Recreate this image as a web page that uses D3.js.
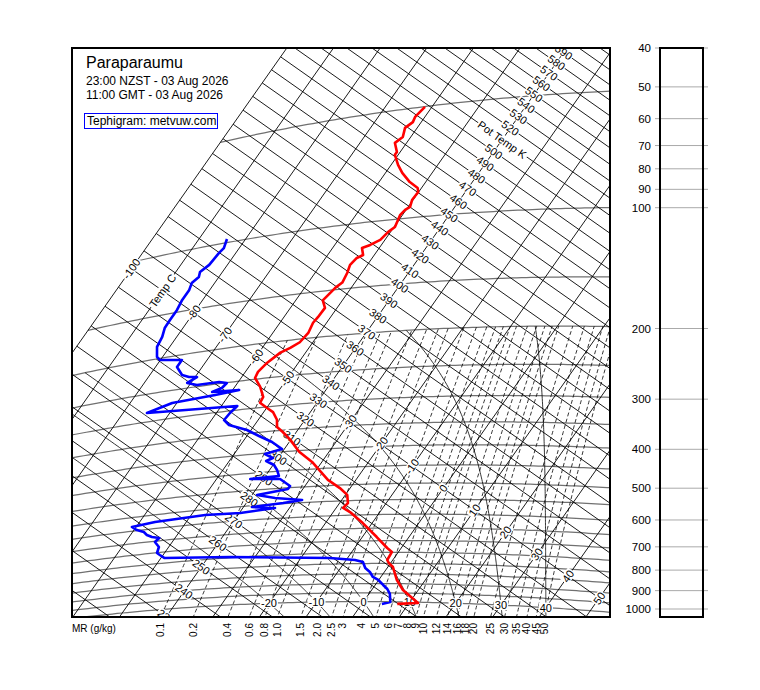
<!DOCTYPE html>
<html><head><meta charset="utf-8">
<script src="https://cdn.jsdelivr.net/npm/d3@7"></script>
<style>body{margin:0;background:#fff;} text{font-family:"Liberation Sans",Arial,Helvetica,sans-serif;fill:#000;}</style>
</head><body><svg id="c" width="760" height="690"></svg>
<script>
// ---------------- data ----------------
const redP = [1012,1004.5,933,881,817,798,784,748,731,685,630,589,574,558,531,509,483,431,403,373,354,342,327,311,302,291,281,263,248,239,227,215,210,204,193,182,176,167,159,148,144,136,129.5,124.5,122.7,117.3,115.7,112.8,107.8,105.0,100.7,97.6,94.9,93.4,89.6,85.5,83.4,79.9,75.0,71.1,66.5,65.4,61.6,59.7,56.4,54.7,53.0,50.1];
const redT = [7.6,11.9,6.7,3.9,1.1,-0.4,-1.2,-1.4,-3.0,-6.9,-12.0,-16.4,-18.5,-18.2,-19.6,-22.2,-26.0,-32.1,-36.4,-40.1,-42.9,-44.9,-46.0,-48.0,-49.9,-52.2,-52.4,-54.6,-57.0,-57.3,-56.7,-55.4,-54.0,-52.8,-52.4,-52.9,-52.7,-52.6,-54.2,-53.4,-52.7,-53.1,-53.7,-53.3,-52.4,-53.7,-52.4,-51.0,-50.5,-49.8,-50.2,-50.5,-50.2,-49.6,-50.2,-50.1,-50.8,-53.4,-56.4,-58.5,-60.7,-60.7,-62.5,-61.7,-62.6,-61.8,-62.1,-61.5];
const bluP = [1013.2,1001.1,955.6,928.5,907.1,881.2,865.8,840.8,821.1,792.6,782.9,771.5,746.4,726.5,711.2,701.1,676.0,653.3,638.7,631.7,621.4,608.4,597.7,584.1,575.6,568.7,572.0,562.9,554.3,547.6,541.2,529.5,515.9,503.7,494.9,472.3,465.8,463.4,446.3,432.2,420.0,413.7,402.0,393.0,374.5,358.2,342.5,327.9,316.6,304.1,292.4,282.8,271.6,268.0,264.5,262.2,257.7,250.6,247.3,247.4,241.9,234.9,233.1,228.5,215.6,207.0,204.9,202.1,197.4,184.7,173.8,164.3,156.6,147.7,139.0,131.1,125.6,121.6,117.8,113.6,106.1,103.3,97.6];
const bluTd = [4.3,5.8,4.5,3.2,1.7,-0.1,-1.7,-3.1,-4.7,-6.1,-8.1,-13.8,-35.3,-49.3,-50.7,-51.6,-52.1,-53.7,-53.4,-55.1,-56.5,-57.6,-59.4,-60.9,-56.7,-47.0,-39.8,-33.1,-38.2,-32.1,-28.5,-34.6,-38.9,-33.2,-33.2,-36.4,-42.8,-37.1,-38.4,-39.8,-42.1,-41.1,-43.4,-40.5,-43.7,-47.4,-50.9,-55.5,-57.3,-57.1,-56.6,-74.9,-71.0,-63.0,-58.6,-64.1,-62.6,-62.3,-64.1,-68.4,-70.8,-69.6,-71.3,-73.1,-75.4,-75.4,-77.5,-80.1,-81.2,-82.7,-83.1,-83.9,-84.0,-84.0,-84.4,-84.4,-84.9,-84.3,-84.8,-83.9,-83.6,-83.3,-84.0];

const isotherms = d3.range(-100, 61, 10);
const adiabats = d3.range(210, 640, 10);
const isobars = [50,100,150,200,250,300,350,400,450,500,550,600,650,700,750,800,850,900,950,1000];
const mixRatios = [0.1,0.2,0.4,0.6,0.8,1.0,1.5,2.0,2.5,3,4,5,6,7,8,9,10,12,14,16,18,20,25,30,35,40,45,50];
const mixLabels = ["0.1","0.2","0.4","0.6","0.8","1.0","1.5","2.0","2.5","3","4","5","6","7","8","9","10","12","14","16","18","20","25","30","35","40","45","50"];
const satAdiabats = [-20,-10,0,10,20,30,40];
const satLabels = ["-20","-10","0","10","20","30","40"];
const tempLabelVals = [-100,-90,-80,-70,-60,-50,-30,-20,-10,0,10,20,30,40,50];
const tempLabelTxt = ["-100","Temp C","-80","-70","-60","-50","-30","-20","-10","0","10","20","30","40","50"];
const thetaLabelVals = d3.range(230, 600, 10);
const thetaLabelTxt = thetaLabelVals.map(v => v === 510 ? "Pot Temp K" : String(v));
const panelTicks = [40,50,60,70,80,90,100,200,300,400,500,600,700,800,900,1000];
const titleLines = ["Paraparaumu","23:00 NZST - 03 Aug 2026","11:00 GMT - 03 Aug 2026"];
const creditText = "Tephigram: metvuw.com";

// ---------------- geometry ----------------
const W = 760, H = 690;
const frame = {x:72, y:48, w:538, h:569};
const ANG = 35.15*Math.PI/180, CA = Math.cos(ANG), SA = Math.sin(ANG);
const LABEL_THETA = 330, LABEL_T = -40;
const sScale = d3.scaleLinear().domain([-40, 50]).range([491, 491 + 3.814*90]);
const tScale = d3.scaleLog().domain([330, 660]).range([-144.1, -144.1 + 732.9*Math.log(2)]);
function xy(Tc, th){ const s = sScale(Tc), t = tScale(th); return [CA*s + SA*t, SA*s - CA*t]; }
function thetaOf(p, Tc){ return (Tc + 273.15)*Math.pow(1000/p, 1/3.5); }
function ptxy(p, Tc){ return xy(Tc, thetaOf(p, Tc)); }
const pY = d3.scaleLog().domain([1000, 40]).range([609, 48]);

function es(Tc){ return 6.112*Math.exp(17.67*Tc/(Tc + 243.5)); }
function tdFromE(e){ const l = Math.log(e/6.112); return 243.5*l/(17.67 - l); }
function rsat(p, Tc){ const e = es(Tc); return 0.622*e/(p - e); }
function dTdp(p, Tk){
  const Rd = 287.04, cp = 1005.7, Lv = 2.501e6, eps = 0.622;
  const r = rsat(p, Tk - 273.15);
  return (Rd*Tk + Lv*r)/(p*(cp + Lv*Lv*r*eps/(Rd*Tk*Tk)));
}
function moist(tw){
  function run(p0, p1, dp){
    let p = p0, T = tw + 273.15; const out = [[p, T]];
    while ((dp < 0 && p > p1) || (dp > 0 && p < p1)){
      const k1 = dTdp(p, T), k2 = dTdp(p + dp/2, T + dp/2*k1), k3 = dTdp(p + dp/2, T + dp/2*k2), k4 = dTdp(p + dp, T + dp*k3);
      T += dp/6*(k1 + 2*k2 + 2*k3 + k4); p += dp; out.push([p, T]);
    }
    return out;
  }
  const up = run(1000, 200, -5), down = run(1000, 1100, 5);
  return down.reverse().concat(up.slice(1)).map(d => ptxy(d[0], d[1] - 273.15));
}

// ---------------- drawing ----------------
const svg = d3.select("#c");
svg.append("rect").attr("width", W).attr("height", H).attr("fill", "#fff");
svg.append("defs").append("clipPath").attr("id", "clip").append("rect")
  .attr("x", frame.x).attr("y", frame.y).attr("width", frame.w).attr("height", frame.h);
const g = svg.append("g").attr("clip-path", "url(#clip)");
const line = d3.line();

// isobars (gray)
isobars.forEach(p => {
  const pts = d3.range(-100, 70.1, 1).map(T => ptxy(p, T));
  g.append("path").attr("d", line(pts)).attr("fill", "none").attr("stroke", "#707070").attr("stroke-width", 1.25);
});
// isotherms
isotherms.forEach(T => {
  g.append("path").attr("d", line([xy(T, 150), xy(T, 900)])).attr("fill", "none").attr("stroke", "#000").attr("stroke-width", 0.9);
});
// dry adiabats (start at -100 C)
adiabats.forEach(th => {
  g.append("path").attr("d", line([xy(-100, th), xy(80, th)])).attr("fill", "none").attr("stroke", "#000").attr("stroke-width", 0.9);
});
// mixing ratio lines
const mrPressures = d3.range(1150, 199, -10);
mixRatios.forEach(w => {
  const pts = mrPressures.map(p => { const e = w/1000*p/(0.622 + w/1000); return ptxy(p, tdFromE(e)); });
  g.append("path").attr("d", line(pts)).attr("fill", "none").attr("stroke", "#000").attr("stroke-width", 0.8).attr("stroke-dasharray", "4,2.5");
});
// saturated adiabats
satAdiabats.forEach(tw => {
  g.append("path").attr("d", line(moist(tw))).attr("fill", "none").attr("stroke", "#000").attr("stroke-width", 0.8);
});

// labels with white knockout
const lg = g.append("g");
function label(x, y, angle, txt, size){
  const gg = lg.append("g").attr("transform", `translate(${x},${y}) rotate(${angle})`);
  const r = gg.append("rect").attr("fill", "#fff");
  const t = gg.append("text").attr("text-anchor", "middle").attr("dy", "0.36em").attr("font-size", size).text(txt);
  const b = t.node().getBBox();
  r.attr("x", b.x - 1).attr("y", b.y + 1).attr("width", b.width + 2).attr("height", b.height - 2);
}
tempLabelVals.forEach((T, i) => { const [x, y] = xy(T, LABEL_THETA); label(x, y, -(90 - 35.15), tempLabelTxt[i], 11); });
thetaLabelVals.forEach((th, i) => { const [x, y] = xy(LABEL_T, th); label(x, y, 35.15, thetaLabelTxt[i], 11); });
satAdiabats.forEach((tw, i) => { const [x, y] = ptxy(1000, tw); label(x, y, 0, satLabels[i], 11); });

// sounding
const sg = svg.append("g").attr("clip-path", "url(#clip)");
sg.append("path").attr("d", line(redP.map((p, i) => ptxy(p, redT[i])))).attr("fill", "none").attr("stroke", "#ff0000").attr("stroke-width", 2.6).attr("stroke-linejoin", "round");
sg.append("path").attr("d", line(bluP.map((p, i) => ptxy(p, bluTd[i])))).attr("fill", "none").attr("stroke", "#0000ff").attr("stroke-width", 2.6).attr("stroke-linejoin", "round");

// frame
svg.append("rect").attr("x", frame.x).attr("y", frame.y).attr("width", frame.w).attr("height", frame.h)
  .attr("fill", "none").attr("stroke", "#000").attr("stroke-width", 2);

// title block
svg.append("text").attr("x", 86).attr("y", 68).attr("font-size", 16).text(titleLines[0]);
svg.append("text").attr("x", 86).attr("y", 85).attr("font-size", 12).text(titleLines[1]);
svg.append("text").attr("x", 86).attr("y", 99).attr("font-size", 12).text(titleLines[2]);
svg.append("rect").attr("x", 84.5).attr("y", 113.5).attr("width", 133).attr("height", 15).attr("fill", "#fff").attr("stroke", "#0000ff").attr("stroke-width", 1);
svg.append("text").attr("x", 87).attr("y", 125).attr("font-size", 12).text(creditText);

// mixing ratio labels under the frame
svg.append("text").attr("x", 72).attr("y", 632).attr("font-size", 10).text("MR (g/kg)");
const yBottom = frame.y + frame.h;
mixRatios.forEach((w, i) => {
  const f = p => { const e = w/1000*p/(0.622 + w/1000); return ptxy(p, tdFromE(e)); };
  let lo = 900, hi = 1400;
  for (let k = 0; k < 50; k++){ const mid = (lo + hi)/2; if (f(mid)[1] < yBottom) lo = mid; else hi = mid; }
  const x = f(lo)[0];
  svg.append("text").attr("transform", `translate(${x},623) rotate(-90)`).attr("text-anchor", "end").attr("dy", "0.35em").attr("font-size", 10).text(mixLabels[i]);
});

// right pressure panel
const pg = svg.append("g");
panelTicks.forEach(p => {
  pg.append("line").attr("x1", 655).attr("x2", 708).attr("y1", pY(p)).attr("y2", pY(p)).attr("stroke", "#aaa").attr("stroke-width", 1);
  pg.append("text").attr("x", 651).attr("y", pY(p)).attr("dy", "0.36em").attr("text-anchor", "end").attr("font-size", 11.5).text(p);
});
pg.append("rect").attr("x", 660).attr("y", 48).attr("width", 43).attr("height", 569).attr("fill", "none").attr("stroke", "#000").attr("stroke-width", 2);
</script></body></html>
